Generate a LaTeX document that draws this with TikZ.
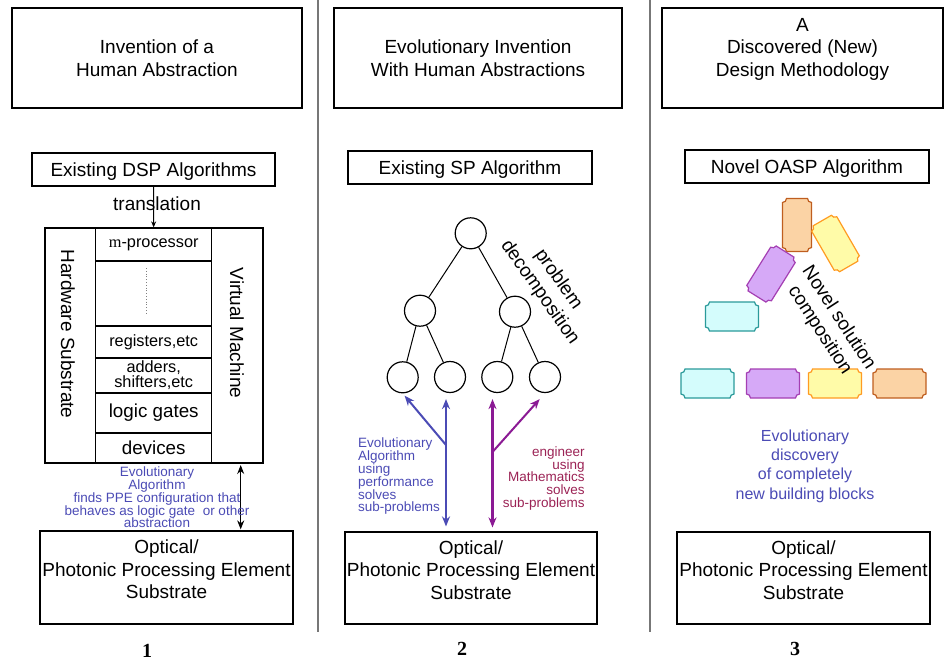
\documentclass[tikz,border=0pt]{standalone}
\usepackage{fontspec}
\setmainfont{Liberation Sans}
\newfontfamily\timesfont{Liberation Serif}
\usetikzlibrary{arrows.meta}
\definecolor{evoblue}{HTML}{4B4BB5}
\definecolor{engred}{HTML}{9B2355}
\definecolor{engpurple}{HTML}{8B1A94}
\definecolor{sepgray}{HTML}{777777}
\definecolor{cyanfill}{HTML}{D4FCFC}
\definecolor{cyandraw}{HTML}{2A9A9A}
\definecolor{violetfill}{HTML}{D6A9F7}
\definecolor{violetdraw}{HTML}{A43FB3}
\definecolor{yellowfill}{HTML}{FFFBA8}
\definecolor{yellowdraw}{HTML}{FF9B22}
\definecolor{orangefill}{HTML}{FBD3A5}
\definecolor{orangedraw}{HTML}{BF5E1F}
\begin{document}
\begin{tikzpicture}[x=0.5pt, y=-0.5pt,
    bigfont/.style={font=\fontsize{9.5}{11.25}\selectfont},
    box/.style={draw, line width=0.6pt, inner sep=0pt, align=center, bigfont},
    layer/.style={draw, line width=0.6pt, minimum width=58pt, inner sep=0pt, align=center},
    leaf/.style={draw, circle, line width=0.6pt, minimum size=15.5pt, inner sep=0pt},
    note/.style={align=center, evoblue, inner sep=0pt, font=\fontsize{6.75}{6.4}\selectfont},
    evo/.style={evoblue, line width=1pt},
    eng/.style={engpurple, line width=1pt},
    ptip/.tip={Stealth[length=5pt, width=4pt]},
    cyanblk/.style={fill=cyanfill, draw=cyandraw},
    violetblk/.style={fill=violetfill, draw=violetdraw},
    yellowblk/.style={fill=yellowfill, draw=yellowdraw},
    orangeblk/.style={fill=orangefill, draw=orangedraw},
    plaque/.pic={
      \path[#1, line width=0.6pt] (-11.25pt,-7.25pt) -- (11.25pt,-7.25pt)
        arc[start angle=180, end angle=90, radius=2pt] -- (13.25pt,5.25pt)
        arc[start angle=270, end angle=180, radius=2pt] -- (-11.25pt,7.25pt)
        arc[start angle=0, end angle=-90, radius=2pt] -- (-13.25pt,-5.25pt)
        arc[start angle=90, end angle=0, radius=2pt] -- cycle;
    }]
    \useasboundingbox (0,0) rectangle (944,659);

    % Separators
    \draw[sepgray, line width=0.6pt] (318,0) -- (318,632);
    \draw[sepgray, line width=0.6pt] (650,0) -- (650,632);

    % Titles
    \node[box, minimum width=145pt, minimum height=50pt] (t1) at (157,58) {Invention of a\\Human Abstraction};
    \node[box, minimum width=144pt, minimum height=50pt] (t2) at (478,58) {Evolutionary Invention\\With Human Abstractions};
    \node[box, minimum width=140.5pt, minimum height=50pt, text depth=11pt] (t3) at (802.5,58) {A\\Discovered (New)\\Design Methodology};

    % Algorithms
    \node[box, minimum width=121.5pt, minimum height=16.5pt, text depth=0pt] (a1) at (153.5,169.5) {Existing DSP Algorithms};
    \node[box, minimum width=122pt, minimum height=16.5pt, text depth=0pt] (a2) at (470,167.5) {Existing SP Algorithm};
    \node[box, minimum width=122pt, minimum height=16.5pt, text depth=0pt] (a3) at (807,166.5) {Novel OASP Algorithm};

    % Substrates
    \node[box, minimum width=126.5pt, minimum height=46.5pt, text depth=8pt] (b1) at (166.5,577.5) {Optical/\\Photonic Processing Element\\Substrate};
    \node[box, minimum width=126pt, minimum height=46pt, text depth=8pt] (b2) at (471,578) {Optical/\\Photonic Processing Element\\Substrate};
    \node[box, minimum width=126.5pt, minimum height=46pt, text depth=8pt] (b3) at (803.5,578) {Optical/\\Photonic Processing Element\\Substrate};

    % Panel 1: layered machine
    \draw[line width=0.6pt] (45,228) rectangle (263,463);
    \node[layer, minimum height=16.5pt, font=\fontsize{8.15}{9}\selectfont] (r1) at (153.7,244.5) {{\timesfont m}-processor};
    \node[layer, minimum height=32.5pt] (r2) at (153.7,293.5) {};
    \node[layer, minimum height=16pt, font=\fontsize{8.15}{9}\selectfont] (r3) at (153.7,342) {registers,etc};
    \node[layer, minimum height=17.5pt, font=\fontsize{8.15}{7.4}\selectfont] (r4) at (153.7,375.5) {adders,\\shifters,etc};
    \node[layer, minimum height=20pt, font=\fontsize{9.4}{11}\selectfont] (r5) at (153.7,413) {logic gates};
    \node[layer, minimum height=15pt, font=\fontsize{9.4}{11}\selectfont] (r6) at (153.7,448) {devices};
    \draw[gray, densely dotted, line width=0.4pt] (146.7,268) -- (146.7,315);
    \node[bigfont, rotate=-90] (hw) at (68,334) {Hardware Substrate};
    \node[bigfont, rotate=-90] (vm) at (237,333) {Virtual Machine};
    \node[bigfont] (trans) at (157,204) {translation};
    \draw[line width=0.5pt, -{Stealth[length=3pt, width=2.5pt]}] (a1) -- (r1);
    \coordinate (vmbot) at (240.7,463);
    \draw[line width=0.6pt, {Stealth[length=4.5pt, width=3.5pt]}-{Stealth[length=4.5pt, width=3.5pt]}, shorten <=1pt, shorten >=0.5pt] (vmbot) -- (vmbot |- b1.north);
    \node[note] (ppe) at (157,497.5) {Evolutionary\\Algorithm\\finds PPE configuration that\\behaves as logic gate\ \ or other\\abstraction};

    % Panel 2: decomposition tree
    \node[leaf] (root) at (470.7,233.3) {};
    \node[leaf] (l) at (420,310.7) {};
    \node[leaf] (r) at (515,311.7) {};
    \node[leaf] (ll) at (402.7,377.3) {};
    \node[leaf] (lr) at (450,377) {};
    \node[leaf] (rl) at (497.3,377) {};
    \node[leaf] (rr) at (545,377) {};
    \draw[line width=0.5pt] (root) -- (l);
    \draw[line width=0.5pt] (root) -- (r);
    \draw[line width=0.5pt] (l) -- (ll);
    \draw[line width=0.5pt] (l) -- (lr);
    \draw[line width=0.5pt] (r) -- (rl);
    \draw[line width=0.5pt] (r) -- (rr);
    \node[bigfont, rotate=-55, align=center] (decomp) at (549,286) {problem\\decomposition};

    % Evolutionary and engineering arrows
    \coordinate (ea) at (446,445);
    \coordinate (en) at (492.5,452);
    \draw[evo, {ptip}-{ptip}, shorten <=3pt, shorten >=2.5pt] (ea |- lr.south) -- (ea |- b2.north);
    \draw[evo, -{ptip}, shorten >=1.5pt] (ea) -- (ll.south);
    \draw[eng, line width=1.5pt, {ptip}-{ptip}, shorten <=3pt, shorten >=2pt] (en |- rl.south) -- (en |- b2.north);
    \draw[eng, -{ptip}, shorten >=4pt] (en) -- (rr.south);
    \node[note, align=left, anchor=west] (evotext) at (357.7,476.5) {Evolutionary\\Algorithm\\using\\performance\\solves\\sub-problems};
    \node[note, align=right, anchor=east, engred] (engtext) at (585,478.4) {engineer\\using\\Mathematics\\solves\\sub-problems};

    % Panel 3: building blocks
    \pic[rotate=90] at (797,225) {plaque=orangeblk};
    \pic[rotate=-60] at (835.5,243.5) {plaque=yellowblk};
    \pic[rotate=58] at (771,274) {plaque=violetblk};
    \pic at (732,316.5) {plaque=cyanblk};
    \pic at (707.5,383.5) {plaque=cyanblk};
    \pic at (773,383.5) {plaque=violetblk};
    \pic at (835,383.5) {plaque=yellowblk};
    \pic at (899.5,383.5) {plaque=orangeblk};
    \node[bigfont, rotate=-57, align=center] (compose) at (829,324) {Novel solution\\composition};
    \node[align=center, evoblue, font=\fontsize{8}{9.65}\selectfont] (discover) at (805,466) {Evolutionary\\discovery\\of completely\\new building blocks};

    % Panel numbers
    \node[font=\timesfont\bfseries\fontsize{10}{12}\selectfont] (n1) at (147,651) {1};
    \node[font=\timesfont\bfseries\fontsize{10}{12}\selectfont] (n2) at (462,649) {2};
    \node[font=\timesfont\bfseries\fontsize{10}{12}\selectfont] (n3) at (795,649) {3};
\end{tikzpicture}
\end{document}
